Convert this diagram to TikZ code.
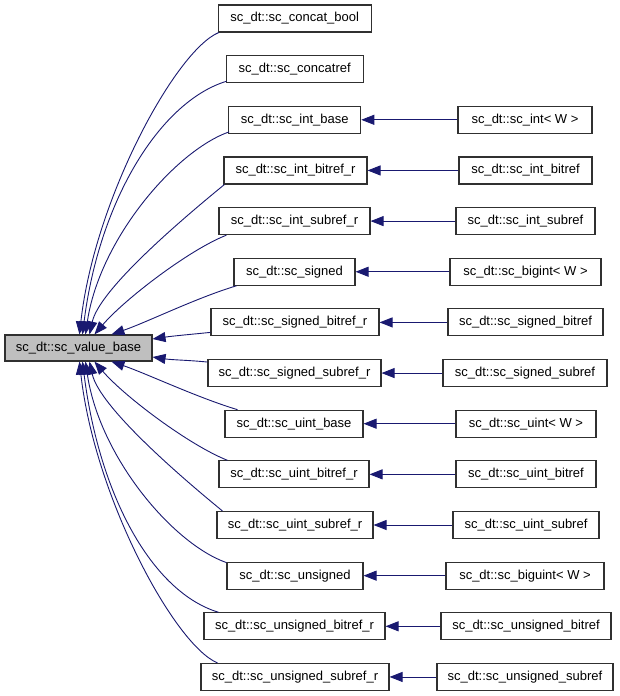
\documentclass[tikz,border=0pt]{standalone}
\usepackage{fontspec}
\setmainfont{Liberation Sans}
\usetikzlibrary{arrows.meta}
\definecolor{edgecol}{HTML}{191970}
\definecolor{rootfill}{HTML}{BFBFBF}
\definecolor{boxline}{HTML}{303030}
\begin{document}
\begin{tikzpicture}[x=1pt,y=-1pt,
 box/.style={draw=boxline, line width=1.1pt, fill=white, minimum height=27pt, inner sep=0pt, font=\fontsize{13}{15}\selectfont},
 rootbox/.style={box, fill=rootfill, minimum height=26pt},
 edge/.style={draw=edgecol, line width=0.9pt, -{Triangle[length=13pt,width=10pt]}}]
\useasboundingbox (0,0) rectangle (619,696);
% root
\node[rootbox, minimum width=147pt] (root) at (78.5,348) {sc\_dt::sc\_value\_base};
% middle column
\node[box, minimum width=153pt] (m1) at (294.7,18.5) {sc\_dt::sc\_concat\_bool};
\node[box, minimum width=137pt] (m2) at (294.7,69.15) {sc\_dt::sc\_concatref};
\node[box, minimum width=132pt] (m3) at (294.7,119.8) {sc\_dt::sc\_int\_base};
\node[box, minimum width=143pt] (m4) at (295.5,170.45) {sc\_dt::sc\_int\_bitref\_r};
\node[box, minimum width=151pt] (m5) at (294.5,221.1) {sc\_dt::sc\_int\_subref\_r};
\node[box, minimum width=121pt] (m6) at (294.5,271.75) {sc\_dt::sc\_signed};
\node[box, minimum width=168pt] (m7) at (295,322.4) {sc\_dt::sc\_signed\_bitref\_r};
\node[box, minimum width=173pt] (m8) at (294.5,373.05) {sc\_dt::sc\_signed\_subref\_r};
\node[box, minimum width=138pt] (m9) at (294,423.7) {sc\_dt::sc\_uint\_base};
\node[box, minimum width=150pt] (m10) at (294,474.35) {sc\_dt::sc\_uint\_bitref\_r};
\node[box, minimum width=156pt] (m11) at (295,525.0) {sc\_dt::sc\_uint\_subref\_r};
\node[box, minimum width=136pt] (m12) at (295,575.65) {sc\_dt::sc\_unsigned};
\node[box, minimum width=181pt] (m13) at (294.5,626.3) {sc\_dt::sc\_unsigned\_bitref\_r};
\node[box, minimum width=188pt] (m14) at (295,676.95) {sc\_dt::sc\_unsigned\_subref\_r};
% right column
\node[box, minimum width=134pt] (r3) at (525,119.8) {sc\_dt::sc\_int< W >};
\node[box, minimum width=133pt] (r4) at (525.5,170.45) {sc\_dt::sc\_int\_bitref};
\node[box, minimum width=139pt] (r5) at (525.5,221.1) {sc\_dt::sc\_int\_subref};
\node[box, minimum width=151pt] (r6) at (525.5,271.75) {sc\_dt::sc\_bigint< W >};
\node[box, minimum width=155pt] (r7) at (525.5,322.4) {sc\_dt::sc\_signed\_bitref};
\node[box, minimum width=164pt] (r8) at (525,373.05) {sc\_dt::sc\_signed\_subref};
\node[box, minimum width=140pt] (r9) at (526,423.7) {sc\_dt::sc\_uint< W >};
\node[box, minimum width=140pt] (r10) at (526,474.35) {sc\_dt::sc\_uint\_bitref};
\node[box, minimum width=146pt] (r11) at (526,525.0) {sc\_dt::sc\_uint\_subref};
\node[box, minimum width=158pt] (r12) at (525,575.65) {sc\_dt::sc\_biguint< W >};
\node[box, minimum width=170pt] (r13) at (526,626.3) {sc\_dt::sc\_unsigned\_bitref};
\node[box, minimum width=176pt] (r14) at (525,676.95) {sc\_dt::sc\_unsigned\_subref};
% horizontal edges
\foreach \k in {3,...,14} { \draw[edge] (r\k.west) -- (m\k.east); }
% upper curves
\draw[edge] ([xshift=1pt]m1.south west) .. controls +(-43,18) and +(15,-135) .. ([xshift=75pt]root.north west);
\draw[edge] ([xshift=1pt,yshift=2pt]m2.south west) .. controls +(-66,20) and +(17,-135) .. ([xshift=78pt]root.north west);
\draw[edge] ([xshift=1pt,yshift=2pt]m3.south west) .. controls +(-54,19) and +(14,-95) .. ([xshift=81pt]root.north west);
\draw[edge] ([xshift=1pt]m4.south west) .. controls +(-44,36) and +(10,-45) .. ([xshift=85pt]root.north west);
\draw[edge] ([xshift=8pt]m5.south west) .. controls +(-38,15) and +(30,-35) .. ([xshift=90pt]root.north west);
\draw[edge] ([xshift=3pt]m6.south west) .. controls +(-40,12) and +(35,-12) .. ([xshift=107pt]root.north west);
\draw[edge] ([yshift=-10pt]m7.west) .. controls +(-20,2) and +(20,-3) .. ([yshift=9pt]root.east);
\draw[edge] ([yshift=11pt]m8.west) .. controls +(-20,-2) and +(20,3) .. ([yshift=-9pt]root.east);
% lower curves
\draw[edge] ([xshift=13pt]m9.north west) .. controls +(-40,-12) and +(35,12) .. ([xshift=107pt]root.south west);
\draw[edge] ([xshift=9pt]m10.north west) .. controls +(-38,-15) and +(30,35) .. ([xshift=90pt]root.south west);
\draw[edge] ([xshift=6pt]m11.north west) .. controls +(-44,-36) and +(10,45) .. ([xshift=85pt]root.south west);
\draw[edge] ([yshift=-1pt]m12.north west) .. controls +(-54,-19) and +(14,95) .. ([xshift=81pt]root.south west);
\draw[edge] ([xshift=15pt]m13.north west) .. controls +(-66,-20) and +(17,135) .. ([xshift=78pt]root.south west);
\draw[edge] ([xshift=17pt]m14.north west) .. controls +(-43,-18) and +(15,135) .. ([xshift=75pt]root.south west);
\end{tikzpicture}
\end{document}
